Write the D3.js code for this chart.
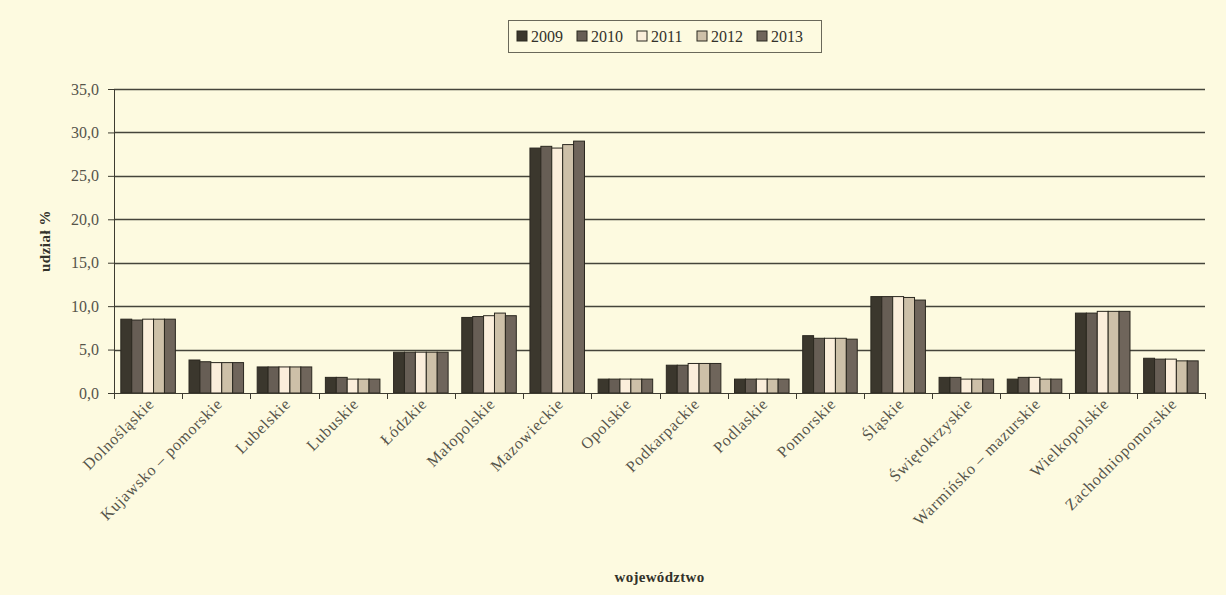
<!DOCTYPE html>
<html>
<head>
<meta charset="utf-8">
<script src="https://cdn.jsdelivr.net/npm/d3@7"></script>
<style>
  body { margin: 0; background: #fdfae0; }
  svg { display: block; }
</style>
</head>
<body>
<div class="chart"></div>
<script>
        var w = 1226;
        var h = 595;

        var regions = ["Dolnośląskie", "Kujawsko – pomorskie", "Lubelskie", "Lubuskie", "Łódzkie",
                       "Małopolskie", "Mazowieckie", "Opolskie", "Podkarpackie", "Podlaskie",
                       "Pomorskie", "Śląskie", "Świętokrzyskie", "Warmińsko – mazurskie",
                       "Wielkopolskie", "Zachodniopomorskie"];
        var years = ["2009", "2010", "2011", "2012", "2013"];

        var v2009 = [8.5, 3.8, 3.0, 1.8, 4.7, 8.7, 28.2, 1.6, 3.2, 1.6, 6.6, 11.1, 1.8, 1.6, 9.2, 4.0];
        var v2010 = [8.4, 3.6, 3.0, 1.8, 4.7, 8.8, 28.4, 1.6, 3.2, 1.6, 6.3, 11.1, 1.8, 1.8, 9.2, 3.9];
        var v2011 = [8.5, 3.5, 3.0, 1.6, 4.7, 8.9, 28.2, 1.6, 3.4, 1.6, 6.3, 11.1, 1.6, 1.8, 9.4, 3.9];
        var v2012 = [8.5, 3.5, 3.0, 1.6, 4.7, 9.2, 28.6, 1.6, 3.4, 1.6, 6.3, 11.0, 1.6, 1.6, 9.4, 3.7];
        var v2013 = [8.5, 3.5, 3.0, 1.6, 4.7, 8.9, 29.0, 1.6, 3.4, 1.6, 6.2, 10.7, 1.6, 1.6, 9.4, 3.7];
        var series = [v2009, v2010, v2011, v2012, v2013];

        var yTicks = [0, 5, 10, 15, 20, 25, 30, 35];
        var colors = ["#3b372d", "#675e55", "#fbeedb", "#cdc0a8", "#6f655b"];

        var margin = {top: 89, left: 114, right: 21, bottom: 202};
        var pw = w - margin.left - margin.right;
        var ph = h - margin.top - margin.bottom;

        var x0 = d3.scaleBand()
                   .domain(regions)
                   .range([0, pw])
                   .paddingInner(0.2)
                   .paddingOuter(0.1);
        var x1 = d3.scaleBand()
                   .domain(years)
                   .range([0, x0.bandwidth()]);
        var y = d3.scaleLinear()
                  .domain([0, 35])
                  .range([ph, 0]);

        var svg = d3.select("div.chart")
                    .append("svg")
                    .attr("width", w)
                    .attr("height", h);

        svg.append("rect")
           .attr("width", w).attr("height", h)
           .attr("fill", "#fdfae0");

        var g = svg.append("g")
                   .attr("transform", "translate(" + margin.left + "," + margin.top + ")");

        //gridlines
        g.selectAll("line.grid")
         .data(yTicks.slice(1))
         .enter()
         .append("line")
         .attr("class", "grid")
         .attr("x1", 0).attr("x2", pw)
         .attr("y1", function(d) { return Math.round(y(d)) + 0.5; })
         .attr("y2", function(d) { return Math.round(y(d)) + 0.5; })
         .attr("stroke", "#45443a")
         .attr("stroke-width", 1.3);

        //bars
        var groups = g.selectAll("g.region")
                      .data(regions)
                      .enter()
                      .append("g")
                      .attr("transform", function(d) { return "translate(" + x0(d) + ",0)"; });

        groups.selectAll("rect")
              .data(function(d, i) {
                  return years.map(function(yr, j) { return {year: yr, value: series[j][i], j: j}; });
              })
              .enter()
              .append("rect")
              .attr("x", function(d) { return x1(d.year); })
              .attr("y", function(d) { return y(d.value); })
              .attr("width", x1.bandwidth())
              .attr("height", function(d) { return ph - y(d.value); })
              .attr("fill", function(d) { return colors[d.j]; })
              .attr("stroke", "#2b2820")
              .attr("stroke-width", 1);

        // y axis
        var y_axis = d3.axisLeft(y)
                       .tickValues(yTicks)
                       .tickSize(6)
                       .tickPadding(9)
                       .tickFormat(function(d) { return d3.format(".1f")(d).replace(".", ","); });
        var ya = g.append("g").call(y_axis);
        ya.select(".domain").attr("stroke", "#3d3b30");
        ya.selectAll(".tick line").attr("stroke", "#3d3b30");
        ya.selectAll("text")
          .attr("font-family", "Liberation Serif, serif")
          .attr("font-size", "16px")
          .attr("fill", "#55544a");

        // x axis with ticks between categories
        g.append("line")
         .attr("x1", 0).attr("x2", pw)
         .attr("y1", ph + 0.5).attr("y2", ph + 0.5)
         .attr("stroke", "#3d3b30");
        var step = x0.step();
        g.selectAll("line.xtick")
         .data(d3.range(regions.length + 1))
         .enter()
         .append("line")
         .attr("class", "xtick")
         .attr("x1", function(d) { return Math.round(d * step) + 0.5; })
         .attr("x2", function(d) { return Math.round(d * step) + 0.5; })
         .attr("y1", ph).attr("y2", ph + 6)
         .attr("stroke", "#3d3b30");

        g.selectAll("text.xlab")
         .data(regions)
         .enter()
         .append("text")
         .attr("class", "xlab")
         .attr("text-anchor", "end")
         .attr("transform", function(d) {
             return "translate(" + (x0(d) + x0.bandwidth() / 2 + 7) + "," + (ph + 12) + ") rotate(-45)";
         })
         .attr("font-family", "Liberation Serif, serif")
         .attr("font-size", "16px")
         .attr("letter-spacing", "0.8px")
         .attr("fill", "#55544a")
         .text(function(d) { return d; });

        // axis titles
        svg.append("text")
           .attr("text-anchor", "middle")
           .attr("transform", "translate(50," + (margin.top + ph / 2) + ") rotate(-90)")
           .attr("font-family", "Liberation Serif, serif")
           .attr("font-size", "15px")
           .attr("font-weight", "bold")
           .attr("letter-spacing", "0.5px")
           .attr("fill", "#33322a")
           .text("udział %");

        svg.append("text")
           .attr("text-anchor", "middle")
           .attr("x", margin.left + pw / 2)
           .attr("y", 582)
           .attr("font-family", "Liberation Serif, serif")
           .attr("font-size", "15px")
           .attr("font-weight", "bold")
           .attr("letter-spacing", "0.3px")
           .attr("fill", "#33322a")
           .text("województwo");

        // legend
        var legend = svg.append("g").attr("transform", "translate(508,20)");
        legend.append("rect")
              .attr("x", 0.5).attr("y", 0.5)
              .attr("width", 313).attr("height", 32)
              .attr("fill", "#fdfae0")
              .attr("stroke", "#6a685a");
        var items = legend.selectAll("g.item")
                          .data(years)
                          .enter()
                          .append("g")
                          .attr("transform", function(d, i) { return "translate(" + (9 + i * 60) + ",0)"; });
        items.append("rect")
             .attr("x", 0).attr("y", 11)
             .attr("width", 10).attr("height", 10)
             .attr("fill", function(d, i) { return colors[i]; })
             .attr("stroke", "#2b2820");
        items.append("text")
             .attr("x", 14).attr("y", 22)
             .attr("font-family", "Liberation Serif, serif")
             .attr("font-size", "16px")
             .attr("fill", "#33322a")
             .text(function(d) { return d; });
</script>
</body>
</html>
